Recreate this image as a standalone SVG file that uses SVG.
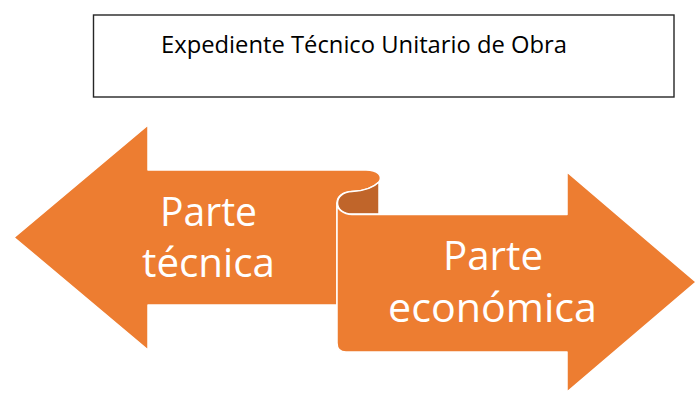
<svg xmlns="http://www.w3.org/2000/svg" width="696" height="393" viewBox="0 0 696 393">
<style>
.rib{fill:#ED7D31;stroke:#FFFFFF;stroke-width:1.5;stroke-linejoin:round}
.curl{fill:#C0652A;stroke:#FFFFFF;stroke-width:1.5;stroke-linejoin:round}
.big{font-family:"Open Sans","Liberation Sans",sans-serif;font-size:40px;fill:#FFFFFF;text-anchor:middle}
.title{font-family:"Open Sans","Liberation Sans",sans-serif;font-size:24px;fill:#000000}
</style>
<rect width="696" height="393" fill="#FFFFFF"/>
<g id="title-box">
<rect x="93.5" y="15" width="580.5" height="82" fill="#FFFFFF" stroke="#262626" stroke-width="1.4"/>
<text class="title" x="161" y="53" textLength="406" lengthAdjust="spacingAndGlyphs">Expediente Técnico Unitario de Obra</text>
</g>
<g id="ribbon">
<g id="parte-tecnica">
<path class="rib" d="M148,125 L14,237.5 L148,350 L148,305 L337,305 L337,203 C337,196 343,192 352,191.5 C365,191 373,188 379,182 C383,176 378,170 366,170 L148,170 Z"/>
<text class="big" x="208.5" y="226" textLength="97" lengthAdjust="spacingAndGlyphs">Parte</text>
<text class="big" x="208.5" y="277" textLength="133" lengthAdjust="spacingAndGlyphs">técnica</text>
</g>
<path class="curl" d="M379,182 C373,188 365,191 352,191.5 C343,192 337.5,197 337.5,203 C337.5,209 343,214 352,214 L379,214 Z"/>
<g id="parte-economica">
<path class="rib" d="M337,203 C337,209 343,214.5 352,214.5 L567,214.5 L567,172 L696,282 L567,392 L567,352 L346,352 Q337,352 337,343 Z"/>
<text class="big" x="493" y="270" textLength="100" lengthAdjust="spacingAndGlyphs">Parte</text>
<text class="big" x="492.5" y="322" textLength="209" lengthAdjust="spacingAndGlyphs">económica</text>
</g>
</g>
<g id="connectors"></g>
</svg>
